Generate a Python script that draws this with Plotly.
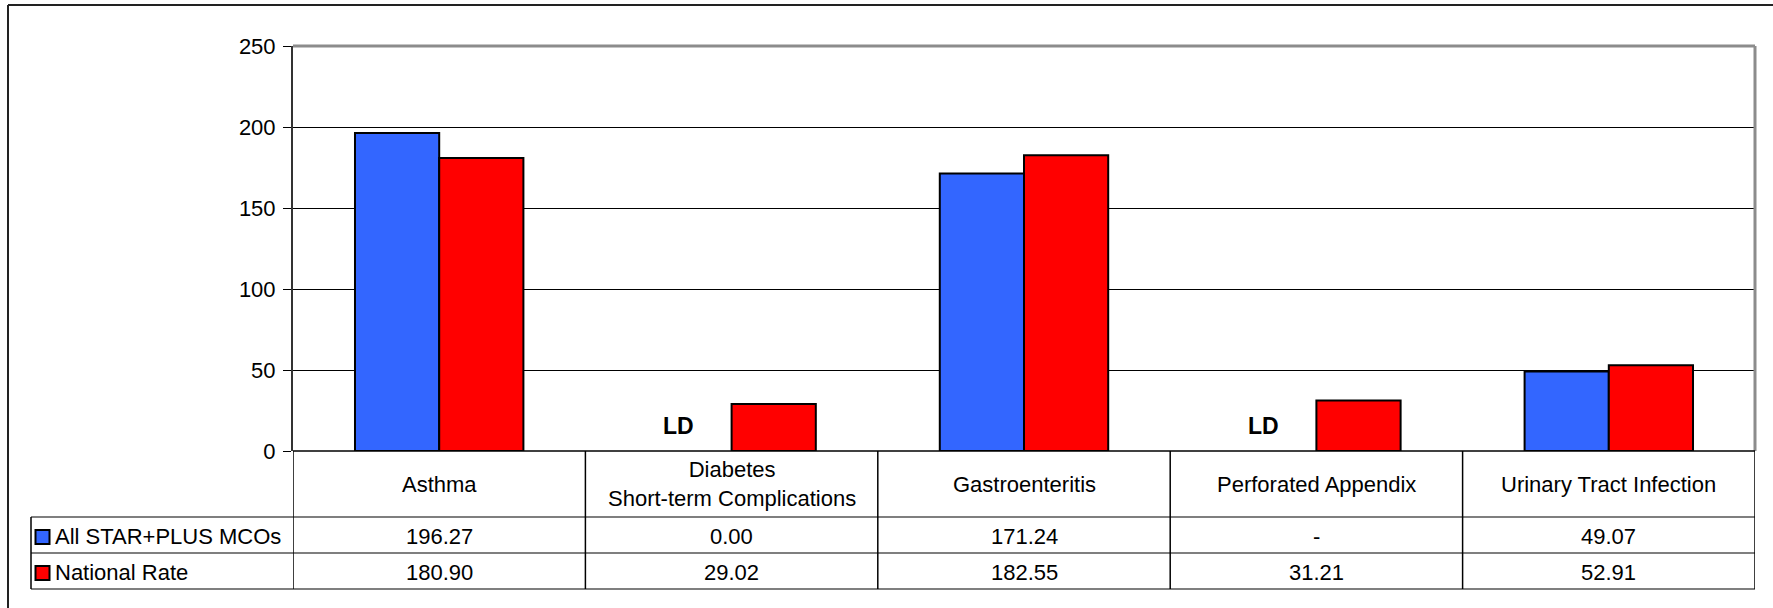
import plotly.graph_objects as go

# ---- data ----
categories = ["Asthma", "Diabetes<br>Short-term Complications", "Gastroenteritis",
              "Perforated Appendix", "Urinary Tract Infection"]
series_names = ["All STAR+PLUS MCOs", "National Rate"]
mco_rates = [196.27, 0.00, 171.24, None, 49.07]
national_rates = [180.90, 29.02, 182.55, 31.21, 52.91]
low_denominator = [False, True, False, True, False]
y_ticks = [0, 50, 100, 150, 200, 250]

BLUE = "#3366FF"
RED = "#FF0000"
FONT = "Liberation Sans, Arial, sans-serif"
TXT = 22

# ---- geometry (pixels) ----
W, H = 1773, 608
PL, PR, PT, PB = 293, 1755, 46, 451
pw, ph = PR - PL, PB - PT


def px(X):
    return (X - PL) / pw


def py(Y):
    return (PB - Y) / ph


idx = list(range(len(categories)))
mco_bar = [None if ld else v for v, ld in zip(mco_rates, low_denominator)]

fig = go.Figure()
fig.add_trace(go.Bar(x=idx, y=mco_bar, name=series_names[0],
                     marker=dict(color=BLUE, line=dict(color="black", width=2))))
fig.add_trace(go.Bar(x=idx, y=national_rates, name=series_names[1],
                     marker=dict(color=RED, line=dict(color="black", width=2))))

shapes = []
annotations = []

# outer chart border (top and left visible)
shapes.append(dict(type="line", xref="paper", yref="paper", x0=px(8), x1=px(1773), y0=py(5), y1=py(5),
                   line=dict(color="#222", width=2)))
shapes.append(dict(type="line", xref="paper", yref="paper", x0=px(8), x1=px(8), y0=py(5), y1=py(608),
                   line=dict(color="#222", width=2)))

# plot area border top/right (gray)
shapes.append(dict(type="line", xref="paper", yref="paper", x0=0, x1=1, y0=1, y1=1,
                   line=dict(color="#8c8c8c", width=3)))
shapes.append(dict(type="line", xref="paper", yref="paper", x0=1, x1=1, y0=0, y1=1,
                   line=dict(color="#8c8c8c", width=3)))

# table rows
row_header_bottom = 517
row1_bottom = 553
row2_bottom = 589
legend_left = 31
for Y in (row_header_bottom, row1_bottom, row2_bottom):
    shapes.append(dict(type="line", xref="paper", yref="paper", x0=px(legend_left), x1=1,
                       y0=py(Y), y1=py(Y), line=dict(color="#7f7f7f", width=2)))
shapes.append(dict(type="line", xref="paper", yref="paper", x0=px(legend_left), x1=px(legend_left),
                   y0=py(row_header_bottom), y1=py(row2_bottom), line=dict(color="black", width=1.5)))
# vertical column lines
for i in range(len(categories) + 1):
    shapes.append(dict(type="line", xref="x", yref="paper", x0=i - 0.5, x1=i - 0.5,
                       y0=0, y1=py(row2_bottom), line=dict(color="black", width=1.5)))
# zero line
shapes.append(dict(type="line", xref="paper", yref="paper", x0=0, x1=1, y0=0, y1=0,
                   line=dict(color="black", width=1.5)))


def fmt(v):
    return "-" if v is None else f"{v:.2f}"


for i, cat in enumerate(categories):
    annotations.append(dict(x=i, y=py((PB + row_header_bottom) / 2), xref="x", yref="paper",
                            text=cat, showarrow=False, font=dict(family=FONT, size=TXT, color="black"),
                            xanchor="center", yanchor="middle"))
    annotations.append(dict(x=i, y=py((row_header_bottom + row1_bottom) / 2 + 1), xref="x", yref="paper",
                            text=fmt(mco_rates[i]), showarrow=False,
                            font=dict(family=FONT, size=TXT, color="black"),
                            xanchor="center", yanchor="middle"))
    annotations.append(dict(x=i, y=py((row1_bottom + row2_bottom) / 2 + 1), xref="x", yref="paper",
                            text=fmt(national_rates[i]), showarrow=False,
                            font=dict(family=FONT, size=TXT, color="black"),
                            xanchor="center", yanchor="middle"))
    if low_denominator[i]:
        annotations.append(dict(x=i - 0.18, y=15.5, xref="x", yref="y", text="<b>LD</b>",
                                showarrow=False, font=dict(family=FONT, size=23, color="black"),
                                xanchor="center", yanchor="middle"))

# legend rows inside table
for name, color, (top, bot) in zip(series_names, [BLUE, RED],
                                   [(row_header_bottom, row1_bottom), (row1_bottom, row2_bottom)]):
    cy = (top + bot) / 2 + 2
    shapes.append(dict(type="rect", xref="paper", yref="paper", x0=px(35.5), x1=px(49.5),
                       y0=py(cy - 7), y1=py(cy + 7), fillcolor=color, line=dict(color="black", width=2)))
    annotations.append(dict(x=px(53), y=py(cy - 1), xref="paper", yref="paper", text=name,
                            showarrow=False, font=dict(family=FONT, size=TXT, color="black"),
                            xanchor="left", yanchor="middle"))

fig.update_layout(
    width=W, height=H,
    margin=dict(l=PL, r=W - PR, t=PT, b=H - PB, pad=0),
    paper_bgcolor="white", plot_bgcolor="white",
    barmode="group", bargap=0.424, bargroupgap=0,
    showlegend=False,
    shapes=shapes, annotations=annotations,
    font=dict(family=FONT, color="black"),
)
fig.update_xaxes(range=[-0.5, len(categories) - 0.5], showticklabels=False, showgrid=False,
                 zeroline=False, showline=False, ticks="")
fig.update_yaxes(range=[0, 250], tickvals=y_ticks, showgrid=True, gridcolor="black", gridwidth=1,
                 zeroline=False, showline=True, linecolor="#333", linewidth=2,
                 ticks="outside", ticklen=8, tickcolor="black", tickwidth=1,
                 tickfont=dict(family=FONT, size=TXT, color="black"), ticklabelstandoff=3)

fig.write_html("out.html", config={"displayModeBar": False},
               post_script="document.body.style.margin='0';document.body.style.overflow='hidden';")
